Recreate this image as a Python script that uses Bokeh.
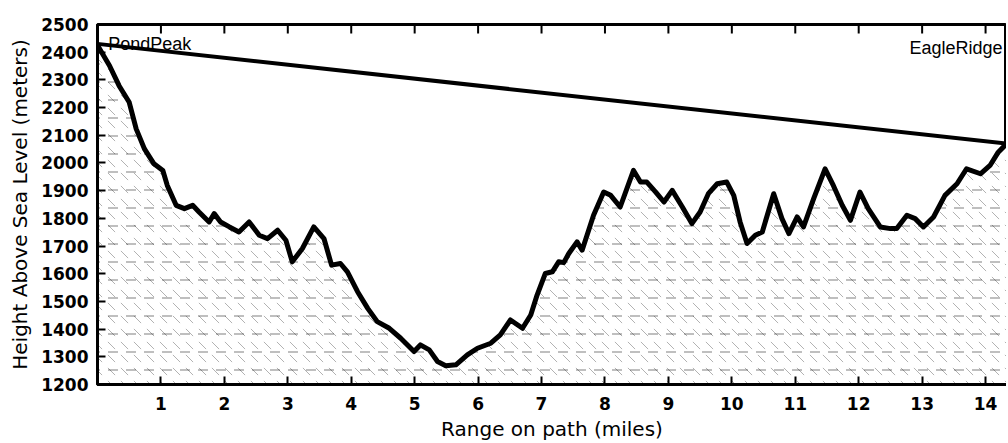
import math
from bokeh.plotting import figure
from bokeh.models import FixedTicker, Range1d
from bokeh.embed import file_html
from bokeh.resources import INLINE

# Terrain profile (miles along path, metres above sea level)
miles = [0.0, 0.19, 0.34, 0.5, 0.61, 0.74, 0.89, 1.03, 1.1, 1.24, 1.37, 1.5, 1.6, 1.76, 1.84, 1.94,
         2.08, 2.23, 2.39, 2.55, 2.68, 2.84, 2.97, 3.07, 3.23, 3.41, 3.57, 3.69, 3.83, 3.94, 4.10,
         4.26, 4.41, 4.6, 4.78, 4.99, 5.09, 5.23, 5.36, 5.49, 5.65, 5.83, 5.99, 6.2, 6.35, 6.51,
         6.7, 6.83, 6.93, 7.06, 7.17, 7.27, 7.35, 7.43, 7.56, 7.64, 7.82, 7.98, 8.09, 8.24, 8.45,
         8.56, 8.66, 8.8, 8.93, 9.06, 9.22, 9.37, 9.5, 9.63, 9.77, 9.92, 10.03, 10.13, 10.24,
         10.37, 10.48, 10.66, 10.79, 10.9, 11.03, 11.13, 11.29, 11.47, 11.6, 11.74, 11.87, 12.02,
         12.15, 12.34, 12.5, 12.6, 12.76, 12.89, 13.02, 13.18, 13.36, 13.55, 13.7, 13.92, 14.07,
         14.2, 14.33]
elevation = [2425, 2351, 2279, 2219, 2123, 2051, 1997, 1973, 1919, 1847, 1835, 1847, 1823, 1787,
             1817, 1787, 1769, 1751, 1787, 1739, 1727, 1757, 1721, 1643, 1691, 1769, 1727, 1631,
             1637, 1607, 1535, 1475, 1427, 1403, 1367, 1319, 1343, 1325, 1283, 1268, 1271, 1307,
             1331, 1349, 1379, 1433, 1403, 1451, 1523, 1601, 1607, 1643, 1640, 1673, 1715, 1685,
             1811, 1895, 1883, 1841, 1973, 1931, 1931, 1895, 1859, 1901, 1841, 1781, 1823, 1889,
             1925, 1931, 1883, 1787, 1709, 1739, 1751, 1889, 1799, 1745, 1805, 1769, 1871, 1979,
             1919, 1847, 1793, 1895, 1835, 1769, 1763, 1763, 1811, 1799, 1769, 1805, 1883, 1925,
             1979, 1961, 1991, 2039, 2069]

# Line of sight between the two sites
los_miles = [0.0, 14.33]
los_elev = [2430, 2070]

site_names = ["PondPeak", "EagleRidge"]
site_x = [0.17, 12.8]
site_y = [2430, 2414]

x_ticks = list(range(1, 15))
y_ticks = list(range(1200, 2501, 100))
y_min, y_max = 1200, 2500

p = figure(width=1006, height=443, output_backend="svg", toolbar_location=None,
           x_range=Range1d(0, 14.33), y_range=Range1d(y_min, y_max),
           min_border_left=97, min_border_right=0, min_border_top=24, min_border_bottom=57,
           background_fill_color="white", border_fill_color="white")

p.outline_line_color = "black"
p.outline_line_width = 3
p.xgrid.visible = False
p.ygrid.visible = False

base = [y_min] * len(miles)
p.varea(x=miles, y1=base, y2=elevation, fill_color="white",
        hatch_pattern="horizontal_dash", hatch_scale=18, hatch_weight=1,
        hatch_color="black", hatch_alpha=0.5)
p.varea(x=miles, y1=base, y2=elevation, fill_alpha=0,
        hatch_pattern="left_diagonal_dash", hatch_scale=13, hatch_weight=1,
        hatch_color="black", hatch_alpha=0.3)

p.line(los_miles, los_elev, line_color="black", line_width=4)
p.line(miles, elevation, line_color="black", line_width=5, line_join="round")

p.text(x=site_x, y=site_y, text=site_names, text_font_size="18px",
       text_color="black", text_baseline="alphabetic", text_align="left",
       text_font={"value": "Liberation Sans"})

# inward tick marks along the top edge of the frame
p.scatter(x=x_ticks, y=[y_max] * len(x_ticks), marker="dash", angle=math.pi / 2,
          size=18, line_color="black", line_width=2)


def style_axis(ax):
    ax.axis_line_width = 3
    ax.axis_line_color = "black"
    ax.major_tick_in = 8
    ax.major_tick_out = 0
    ax.major_tick_line_width = 2
    ax.minor_tick_in = 0
    ax.minor_tick_out = 0
    ax.major_label_text_font = "DejaVu Sans"
    ax.major_label_text_font_style = "bold"
    ax.major_label_text_font_size = "17px"
    ax.major_label_text_color = "black"
    ax.axis_label_text_font = "DejaVu Sans"
    ax.axis_label_text_font_style = "normal"
    ax.axis_label_text_font_size = "20px"
    ax.axis_label_text_color = "black"


xa = p.xaxis[0]
xa.ticker = FixedTicker(ticks=x_ticks)
xa.axis_label = "Range on path (miles)"
style_axis(xa)
xa.major_label_standoff = 12
xa.axis_label_standoff = 4

ya = p.yaxis[0]
ya.ticker = FixedTicker(ticks=y_ticks)
ya.axis_label = "Height Above Sea Level (meters)"
style_axis(ya)
ya.major_label_standoff = 9
ya.axis_label_standoff = 6

open("out.html", "w").write(file_html(p, INLINE))
